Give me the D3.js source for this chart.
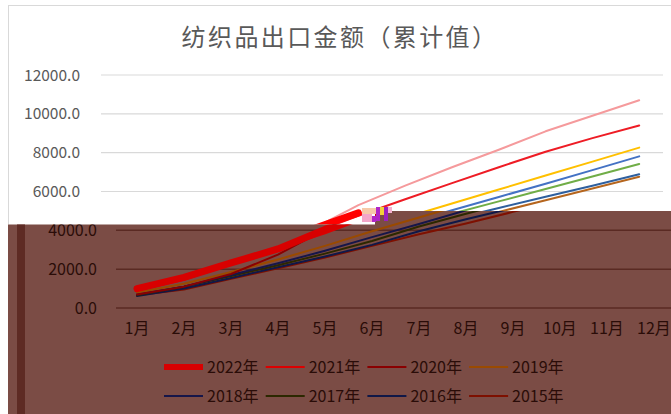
<!DOCTYPE html>
<html><head><meta charset="utf-8">
<script src="https://cdn.jsdelivr.net/npm/d3@7"></script>
<style>
html,body{margin:0;padding:0;background:#fff;}
svg{display:block;font-family:"Noto Sans CJK SC","Noto Sans",sans-serif;}
</style></head>
<body>
<svg id="c" width="671" height="414"></svg>
<script>
const title = "纺织品出口金额（累计值）";
const months = ["1月","2月","3月","4月","5月","6月","7月","8月","9月","10月","11月","12月"];
const yTicks = [0, 2000, 4000, 6000, 8000, 10000, 12000];
const years = ["2022年","2021年","2020年","2019年","2018年","2017年","2016年","2015年"];
const v2022 = [1000, 1580, 2320, 3040, 4050, 4900];
const v2021 = [900, 1450, 2250, 3050, 3850, 4750, 5600, 6430, 7250, 8050, 8750, 9400];
const v2020 = [700, 1100, 1750, 2750, 4050, 5300, 6300, 7250, 8150, 9100, 9900, 10700];
const v2019 = [800, 1250, 1850, 2500, 3200, 3950, 4660, 5380, 6100, 6820, 7540, 8260];
const v2018 = [700, 1100, 1700, 2300, 2950, 3650, 4330, 5030, 5720, 6400, 7100, 7810];
const v2017 = [650, 1100, 1650, 2200, 2800, 3450, 4200, 4850, 5490, 6130, 6770, 7420];
const v2016 = [620, 1000, 1550, 2100, 2650, 3250, 3950, 4570, 5150, 5730, 6300, 6890];
const v2015 = [650, 950, 1500, 2050, 2600, 3200, 3800, 4350, 4950, 5550, 6150, 6760];
const seriesValues = [v2022, v2021, v2020, v2019, v2018, v2017, v2016, v2015];

const topColors = ["#ff0000","#ee1c25","#f59a9c","#ffc000","#4472c4","#70ad47","#2e5f9e","#b5651d"];
const botColors = ["#d80000","#dc0000","#8a0000","#9a4a00","#16164a","#2c2800","#101848","#7e1000"];
const widths = [7, 2, 2, 2, 2, 2, 2, 2];

const svg = d3.select("#c");
const defs = svg.append("defs");
defs.append("clipPath").attr("id","clipTop").append("path")
  .attr("d","M0,0 H671 V211 H375 V224.5 H0 Z");
defs.append("clipPath").attr("id","clipBot").append("path")
  .attr("d","M8,224.5 H375 V211 H671 V414 H8 Z");

const y = d3.scaleLinear().domain([0, 12000]).range([308, 75]);

function drawLines(g, x, colors) {
  const line = d3.line().x((d,i)=>x(months[i])).y(d=>y(d));
  for (let s = seriesValues.length - 1; s >= 0; s--) {
    g.append("path").datum(seriesValues[s])
      .attr("d", line)
      .attr("fill","none")
      .attr("stroke", colors[s])
      .attr("stroke-width", widths[s])
      .attr("stroke-linecap","round")
      .attr("stroke-linejoin","round");
  }
}

// ---------- upper (original) part ----------
const upper = svg.append("g").attr("clip-path","url(#clipTop)");
upper.append("rect").attr("x",0).attr("y",0).attr("width",671).attr("height",414).attr("fill","#fff");
upper.append("rect").attr("x",8.5).attr("y",5.5).attr("width",680).attr("height",420)
  .attr("fill","none").attr("stroke","#d9d9d9").attr("stroke-width",1);
upper.append("text").attr("x",340).attr("y",46).attr("text-anchor","middle")
  .attr("font-size",24).attr("letter-spacing",2.4).attr("fill","#595959").text(title);
const xTop = d3.scalePoint().domain(months).range([124.4, 639.2]);
upper.append("g").selectAll("line").data(yTicks).join("line")
  .attr("x1",101).attr("x2",663).attr("y1",d=>y(d)).attr("y2",d=>y(d))
  .attr("stroke","#d9d9d9").attr("stroke-width",1.2);
upper.append("g").selectAll("text").data(yTicks.filter(d=>d>=6000)).join("text")
  .attr("x",80).attr("y",d=>y(d)+5.5).attr("text-anchor","end")
  .attr("font-size",15.5).attr("fill","#595959").text(d=>d3.format(".1f")(d));
drawLines(upper.append("g"), xTop, topColors);

// ---------- lower (recoloured, shifted) part ----------
const lower = svg.append("g").attr("clip-path","url(#clipBot)");
lower.append("rect").attr("x",8).attr("y",200).attr("width",671).attr("height",220).attr("fill","#7b4c45");
lower.append("rect").attr("x",17).attr("y",200).attr("width",8).attr("height",220).attr("fill","#5e2b24");
const xBot = d3.scalePoint().domain(months).range([137, 654]);
lower.append("g").selectAll("line").data(yTicks).join("line")
  .attr("x1",116).attr("x2",690).attr("y1",d=>y(d)).attr("y2",d=>y(d))
  .attr("stroke","#5a2a23").attr("stroke-width",1.5);
lower.append("g").selectAll("text").data(yTicks.filter(d=>d<=4000)).join("text")
  .attr("x",97).attr("y",d=>y(d)+5.5).attr("text-anchor","end")
  .attr("font-size",16).attr("fill","#2a0c08").text(d=>d3.format(".1f")(d));
lower.append("g").selectAll("text").data(months).join("text")
  .attr("x",d=>xBot(d)).attr("y",334).attr("text-anchor","middle")
  .attr("font-size",16).attr("fill","#2a0c08").text(d=>d);
drawLines(lower.append("g"), xBot, botColors);

const leg = lower.append("g");
years.forEach((name, i) => {
  const col = i % 4, row = Math.floor(i / 4);
  const lx = 164 + col * 101.7, ly = 367 + row * 29;
  leg.append("line").attr("x1",lx).attr("x2",lx+39).attr("y1",ly).attr("y2",ly)
    .attr("stroke", botColors[i]).attr("stroke-width", i === 0 ? 6 : 2);
  leg.append("text").attr("x",lx+43).attr("y",ly+5.5).attr("font-size",16)
    .attr("fill","#2a0c08").text(name);
});

// glitch artefact near the seam
const glitch = svg.append("g");
[[362,208,14,6,"#f7c9a8"],[362,214,10,8,"#f4a6c8"],[376,207,4,14,"#b026c8"],
 [380,207,4,8,"#f2d23a"],[384,207,4,14,"#9a20c0"],[388,207,4,6,"#f4b0d0"],
 [372,216,4,6,"#b026c8"]].forEach(r=>{
  glitch.append("rect").attr("x",r[0]).attr("y",r[1]).attr("width",r[2]).attr("height",r[3]).attr("fill",r[4]);
});
</script>
</body></html>
